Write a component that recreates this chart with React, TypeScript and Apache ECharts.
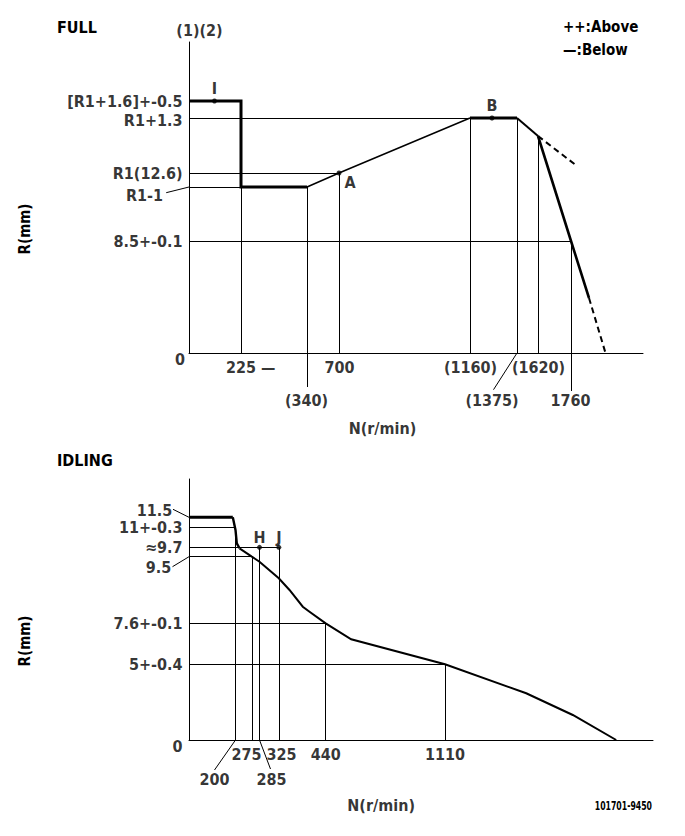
import React, { useEffect, useRef } from "react";
import * as echarts from "echarts";

const FONT = '"DejaVu Sans Condensed", "DejaVu Sans", sans-serif';

// ---------- FULL chart (schematic axis units) ----------
const fullLevelLabels = ["[R1+1.6]+-0.5", "R1+1.3", "R1(12.6)", "R1-1", "8.5+-0.1"];
const fullLevels = [252, 235, 180, 166, 112];
const fullSpeedLabels = ["225 —", "(340)", "700", "(1160)", "(1375)", "(1620)", "1760"];
const fullSpeedPos = [52, 118, 150, 281, 328, 349, 382];
const fullCurveN = [0, 52, 52, 118, 150, 281, 328, 349, 382, 400];
const fullCurveR = [252, 252, 166, 166, 180, 235, 235, 217, 112, 55];
const fullPieces = [
  { from: 0, to: 3, w: 3 },
  { from: 3, to: 5, w: 1.5 },
  { from: 5, to: 6, w: 3 },
  { from: 6, to: 7, w: 2 },
  { from: 7, to: 9, w: 2.6 },
];
const fullDashN = [400, 416.5];
const fullDashR = [55, 0];
const fullDash2N = [349, 388.5];
const fullDash2R = [217, 186.6];

// ---------- IDLING chart (schematic axis units) ----------
const idleLevelLabels = ["11.5", "11+-0.3", "≈9.7", "9.5", "7.6+-0.1", "5+-0.4"];
const idleLevels = [222.7, 212.7, 192.7, 183.3, 116.7, 75.7];
const idleSpeedLabels = ["200", "275", "285", "325", "440", "1110"];
const idleSpeedPos = [46.5, 62.8, 70.5, 89.8, 136.7, 256];
const idleCurveN = [0, 43.8, 46.5, 47.8, 50.5, 62.8, 70.5, 89.8, 100.5, 113.8, 120.5, 136.7, 162.2, 256, 337.2, 383.8, 427.2];
const idleCurveR = [222.7, 222.7, 210, 196.7, 191.7, 183.3, 178.3, 161.7, 150, 133.3, 128.3, 116.7, 100.7, 75.7, 46.7, 25, 0];

const BLACK = "#000";

function seg(a: number[], b: number[]) {
  return { coords: [a, b] };
}

function linesSeries(gi: number, data: any[], width = 1) {
  return {
    type: "lines",
    coordinateSystem: "cartesian2d",
    xAxisIndex: gi,
    yAxisIndex: gi,
    silent: true,
    clip: false,
    data,
    lineStyle: { color: BLACK, width, opacity: 1, curveness: 0 },
    z: 2,
  };
}

function lineSeries(gi: number, pts: number[][], width: number, dashed = false) {
  return {
    type: "line",
    xAxisIndex: gi,
    yAxisIndex: gi,
    silent: true,
    clip: false,
    symbol: "none",
    data: pts,
    lineStyle: { color: BLACK, width, type: dashed ? [6, 4] : "solid", cap: "butt", join: "miter" },
    z: 3,
  };
}

function label(x: number, y: number, text: string, align = "center", size = 16, weight: any = "bold") {
  return {
    value: [x, y],
    label: {
      show: true,
      position: "inside",
      formatter: text,
      align,
      verticalAlign: "middle",
      color: BLACK,
      fontFamily: FONT,
      fontSize: size,
      fontWeight: weight,
    },
  };
}

function labelSeries(gi: number, data: any[]) {
  return {
    type: "scatter",
    xAxisIndex: gi,
    yAxisIndex: gi,
    silent: true,
    clip: false,
    symbolSize: 1,
    itemStyle: { color: "rgba(0,0,0,0)" },
    data,
    z: 5,
  };
}

function dotSeries(gi: number, pts: number[][]) {
  return {
    type: "scatter",
    xAxisIndex: gi,
    yAxisIndex: gi,
    silent: true,
    clip: false,
    symbolSize: 5,
    itemStyle: { color: BLACK },
    data: pts,
    z: 6,
  };
}

function buildOption() {
  const [L16, L13, R1, R1m1, L85] = fullLevels;
  const [x225, x340, x700, x1160, x1375, x1620, x1760] = fullSpeedPos;
  const series: any[] = [];

  // FULL reference lines
  series.push(
    linesSeries(0, [
      seg([0, L13], [x1160, L13]),
      seg([0, R1], [x700, R1]),
      seg([0, R1m1], [x225, R1m1]),
      seg([0, L85], [x1760, L85]),
      seg([x225, R1m1], [x225, 0]),
      seg([x340, R1m1], [x340, -34]),
      seg([x700, R1], [x700, 0]),
      seg([x1160, L13], [x1160, 0]),
      seg([x1375, L13], [x1375, 0]),
      seg([x1620, fullCurveR[7]], [x1620, 0]),
      seg([x1760, L85], [x1760, -38]),
      seg([x1375, 0], [304.5, -36.7]),
      seg([-22.8, 160.3], [0, R1m1]),
    ])
  );
  // FULL curve
  fullPieces.forEach((p) => {
    const pts: number[][] = [];
    for (let i = p.from; i <= p.to; i++) pts.push([fullCurveN[i], fullCurveR[i]]);
    series.push(lineSeries(0, pts, p.w));
  });
  series.push(lineSeries(0, fullDashN.map((n, i) => [n, fullDashR[i]]), 2, true));
  series.push(lineSeries(0, fullDash2N.map((n, i) => [n, fullDash2R[i]]), 2, true));
  series.push(dotSeries(0, [[25.5, L16], [303, L13], [x700, R1]]));

  // FULL labels
  const fl: any[] = [];
  fullLevelLabels.forEach((t, i) => {
    if (t === "R1-1") fl.push(label(-26, 158, t, "right"));
    else if (i === 1) fl.push(label(-6.5, L13 - 2, t, "right"));
    else fl.push(label(-6.5, fullLevels[i], t, "right"));
  });
  const upperRow = [true, false, true, true, false, true, false];
  fullSpeedLabels.forEach((t, i) => {
    if (i === 0) fl.push(label(37, -14.7, t, "left"));
    else if (upperRow[i]) fl.push(label(fullSpeedPos[i] + 0.5, -14.7, t, "center"));
    else if (i === 4) fl.push(label(303, -47, t, "center"));
    else fl.push(label(fullSpeedPos[i] - 0.5, -47, t, "center"));
  });
  fl.push(label(-9, -6, "0", "center"));
  fl.push(label(193.5, -75, "N(r/min)", "center"));
  fl.push(label(10.5, 322.6, "(1)(2)", "center"));
  fl.push(label(25.5, 264.5, "I", "center"));
  fl.push(label(303, 248, "B", "center"));
  fl.push(label(161, 170.5, "A", "center"));
  series.push(labelSeries(0, fl));

  // IDLING reference lines
  const [I115, I11, I97, I95, I76, I5] = idleLevels;
  const [x200, x275, x285, x325, x440, x1110] = idleSpeedPos;
  series.push(
    linesSeries(1, [
      seg([0, I11], [x200, I11]),
      seg([0, I97], [x325, I97]),
      seg([0, I95], [x275, I95]),
      seg([0, I76], [x440, I76]),
      seg([0, I5], [x1110, I5]),
      seg([x200, I11], [x200, 0]),
      seg([x275, I95], [x275, 0]),
      seg([x285, I97], [x285, 0]),
      seg([x325, I97], [x325, 0]),
      seg([x440, I76], [x440, 0]),
      seg([x1110, I5], [x1110, 0]),
      seg([x200, 0], [25.5, -30]),
      seg([x285, 0], [81.5, -29]),
      seg([-16, 230.7], [0, I115]),
      seg([-16.5, 173.3], [0, I95]),
    ])
  );
  series.push(lineSeries(1, [[idleCurveN[0], idleCurveR[0]], [idleCurveN[1], idleCurveR[1]]], 3));
  series.push(lineSeries(1, idleCurveN.slice(1, 5).map((n, i) => [n, idleCurveR[i + 1]]), 2.4));
  series.push(lineSeries(1, idleCurveN.slice(4).map((n, i) => [n, idleCurveR[i + 4]]), 2));
  series.push(dotSeries(1, [[x285, I97], [x325, I97]]));

  const il: any[] = [];
  idleLevelLabels.forEach((t, i) => {
    if (i === 0) il.push(label(-16.8, 230, t, "right"));
    else if (i === 3) il.push(label(-17.8, 173, t, "right"));
    else il.push(label(-6.5, idleLevels[i] - 0.5, t, "right"));
  });
  idleSpeedLabels.forEach((t, i) => {
    if (i === 0) il.push(label(25.5, -39, t, "center"));
    else if (i === 2) il.push(label(82.5, -39, t, "center"));
    else if (i === 1) il.push(label(57.5, -14, t, "center"));
    else if (i === 3) il.push(label(92.5, -14, t, "center"));
    else il.push(label(idleSpeedPos[i], -14.5, t, "center"));
  });
  il.push(label(-11.5, -6.7, "0", "center"));
  il.push(label(192.2, -65.7, "N(r/min)", "center"));
  il.push(label(x285, 203, "H", "center"));
  il.push(label(x325, 203, "J", "center"));
  series.push(labelSeries(1, il));

  const axisCommon = {
    type: "value",
    axisTick: { show: false },
    axisLabel: { show: false },
    splitLine: { show: false },
    axisLine: { show: true, onZero: true, lineStyle: { color: BLACK, width: 1 } },
  };

  const gtext = (x: number, y: number, text: string, align: string, size: number, extra: any = {}) => ({
    type: "text",
    x,
    y,
    silent: true,
    ...extra,
    style: {
      text,
      fill: BLACK,
      fontFamily: FONT,
      fontSize: size,
      fontWeight: "bold",
      align,
      verticalAlign: "middle",
      textAlign: align,
      textVerticalAlign: "middle",
    },
  });

  return {
    animation: false,
    backgroundColor: "#fff",
    grid: [
      { left: 189, top: 42, width: 454, height: 311 },
      { left: 189, top: 479, width: 464, height: 261 },
    ],
    xAxis: [
      { ...axisCommon, gridIndex: 0, min: 0, max: 454 },
      { ...axisCommon, gridIndex: 1, min: 0, max: 464 },
    ],
    yAxis: [
      { ...axisCommon, gridIndex: 0, min: 0, max: 311 },
      { ...axisCommon, gridIndex: 1, min: 0, max: 261 },
    ],
    series,
    graphic: [
      gtext(57, 27, "FULL", "left", 16),
      gtext(563, 27, "++:Above", "left", 15),
      gtext(563, 50, "—:Below", "left", 15),
      gtext(25, 229, "R(mm)", "center", 15, { rotation: Math.PI / 2 }),
      gtext(57, 460, "IDLING", "left", 16),
      gtext(25, 641, "R(mm)", "center", 15, { rotation: Math.PI / 2 }),
      gtext(652, 805, "101701-9450", "right", 12, { scaleX: 0.72 }),
    ],
  };
}

export default function App() {
  const ref = useRef<HTMLDivElement>(null);
  useEffect(() => {
    if (!ref.current) return;
    const chart = echarts.init(ref.current, undefined, { renderer: "svg" });
    chart.setOption(buildOption() as any);
    return () => chart.dispose();
  }, []);
  return (
    <div
      ref={ref}
      style={{ position: "fixed", left: 0, top: 0, width: 685, height: 836, background: "#fff" }}
    />
  );
}
